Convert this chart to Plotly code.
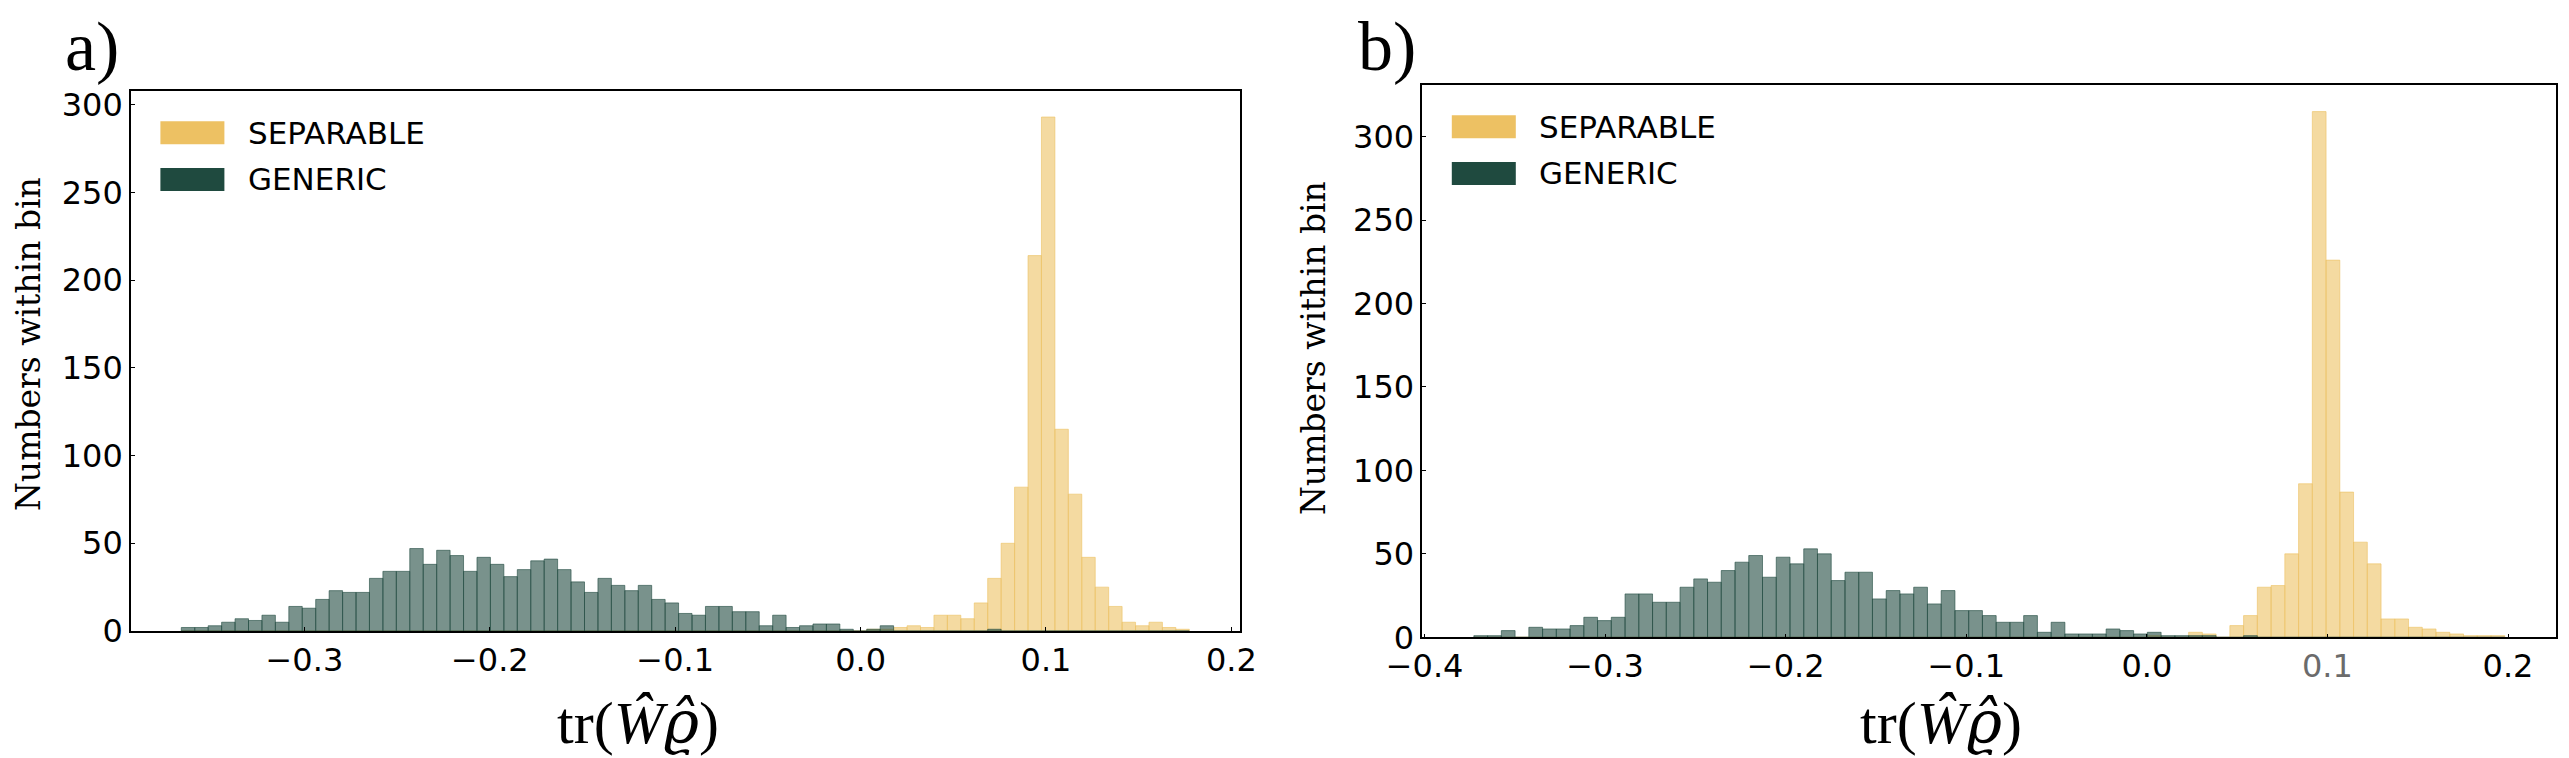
import numpy as np
import plotly.graph_objects as go

W, H = 2569, 758

# histogram bins (75 equal bins shared by both series in each panel)
n_bins = 75
bins_a = (-0.3664, 0.1773)
bins_b = (-0.3727, 0.1982)

# panel a) counts per bin
separable_a = [0] * 51 + [1, 1, 2, 3, 2, 9, 9, 7, 16, 30, 50, 82, 214, 293, 115,
                          78, 42, 25, 14, 5, 3, 5, 2, 1]
generic_a = [2, 2, 3, 5, 7, 6, 9, 5, 14, 13, 18, 23, 22, 22, 30, 34, 34, 47, 38, 46,
             43, 34, 42, 38, 31, 35, 40, 41, 35, 28, 22, 30, 26, 23, 26, 18, 16, 10, 9, 14,
             14, 11, 11, 3, 9, 2, 3, 4, 4, 1, 0, 1, 3, 0, 0, 0, 0, 0, 0, 0,
             1, 0, 0, 0, 0, 0, 0, 0, 0, 0, 0, 0, 0, 0, 0]

# panel b) counts per bin
separable_b = [0] * 49 + [1, 0, 0, 3, 2, 0, 7, 13, 30, 31, 50, 92, 315, 226, 87,
                          57, 44, 11, 11, 6, 5, 3, 2, 1, 1, 1]
generic_b = [1, 1, 4, 0, 6, 5, 5, 7, 12, 10, 12, 26, 26, 21, 21, 30, 35, 33, 40, 45,
             49, 36, 48, 44, 53, 50, 34, 39, 39, 23, 28, 26, 30, 20, 28, 16, 16, 13, 9, 9,
             13, 3, 9, 2, 2, 2, 5, 4, 2, 3, 1, 1, 1, 1, 0, 0, 1, 0, 0, 0,
             0, 0, 0, 0, 0, 0, 0, 0, 0, 0, 0, 0, 0, 0, 0]

ticks_a = [-0.3, -0.2, -0.1, 0.0, 0.1, 0.2]
ticks_b = [-0.4, -0.3, -0.2, -0.1, 0.0, 0.1, 0.2]
yticks = [0, 50, 100, 150, 200, 250, 300]

SEP = (237, 193, 99)
GEN = (31, 74, 63)


def rgba(c, a):
    return f"rgba({c[0]},{c[1]},{c[2]},{a})"


def fx(px):
    return px / W


def fy(py):
    return 1 - py / H


def tick_label(v):
    s = f"{abs(v):.1f}"
    return ("\u2212" + s) if v < 0 else s


fig = go.Figure()

panels = [
    dict(bins=bins_a, sep=separable_a, gen=generic_a, xa="x", ya="y",
         box=(122.9, 1231.7, 83.3, 623.0)),
    dict(bins=bins_b, sep=separable_b, gen=generic_b, xa="x2", ya="y2",
         box=(1414.3, 2548.3, 77.3, 629.3)),
]

for p in panels:
    lo, hi = p["bins"]
    edges = np.linspace(lo, hi, n_bins + 1)
    centers = (edges[:-1] + edges[1:]) / 2
    width = edges[1] - edges[0]
    for name, vals, col in (("SEPARABLE", p["sep"], SEP), ("GENERIC", p["gen"], GEN)):
        fig.add_trace(go.Bar(
            x=centers, y=vals, width=width, name=name,
            xaxis=p["xa"], yaxis=p["ya"], showlegend=False,
            marker=dict(color=rgba(col, 0.6),
                        line=dict(color=rgba(col, 0.6), width=1)),
        ))

tick_font = dict(family="DejaVu Sans", size=32, color="black")
axis_common = dict(showline=True, mirror=True, linecolor="black", linewidth=1.5,
                   ticks="inside", ticklen=4, tickwidth=1, tickcolor="black",
                   showgrid=False, zeroline=False, tickfont=tick_font,
                   automargin=False)

layout_axes = {}
for i, p in enumerate(panels):
    lo, hi = p["bins"]
    span = hi - lo
    x0, x1, y0, y1 = p["box"]
    ymax = 1.05 * max(max(p["sep"]), max(p["gen"]))
    xt = ticks_a if i == 0 else ticks_b
    xtext = [tick_label(v) for v in xt]
    if i == 1:
        xtext = [t if t != "0.1" else "<span style='color:#6b6b6b'>0.1</span>" for t in xtext]
    sfx = "" if i == 0 else "2"
    layout_axes["xaxis" + sfx] = dict(
        axis_common, domain=[fx(x0), fx(x1)], range=[lo - 0.05 * span, hi + 0.05 * span],
        anchor="y" + sfx, tickvals=xt, ticktext=xtext)
    layout_axes["yaxis" + sfx] = dict(
        axis_common, domain=[fy(y1), fy(y0)], range=[0, ymax],
        anchor="x" + sfx, tickvals=yticks)

fig.update_layout(
    width=W, height=H, margin=dict(l=0, r=0, t=0, b=0),
    paper_bgcolor="white", plot_bgcolor="white",
    barmode="overlay", showlegend=False,
    **layout_axes,
)

shapes = []
annotations = []

# custom legends (large matplotlib-style patches)
for p in panels:
    x0, x1, y0, y1 = p["box"]
    for j, (name, col) in enumerate((("SEPARABLE", SEP), ("GENERIC", GEN))):
        top = y0 + 30 + j * 46.6
        shapes.append(dict(type="rect", xref="paper", yref="paper",
                           x0=fx(x0 + 29.5), x1=fx(x0 + 93.5),
                           y0=fy(top + 23), y1=fy(top),
                           fillcolor=rgba(col, 1), line=dict(width=0)))
        annotations.append(dict(text=name, xref="paper", yref="paper",
                                x=fx(x0 + 115), y=fy(top + 11.5),
                                xanchor="left", yanchor="middle", showarrow=False,
                                font=dict(family="DejaVu Sans", size=31, color="black")))

# panel letters
for letter, lx in (("a)", 57), ("b)", 1350)):
    annotations.append(dict(text=letter, xref="paper", yref="paper", x=fx(lx), y=fy(0.5),
                            xanchor="left", yanchor="top", showarrow=False,
                            borderpad=0, borderwidth=0,
                            font=dict(family="Liberation Serif", size=70, color="black")))

# x-axis titles
xtitle = ("tr(<i>\u0174</i><span style='font-family:\"DejaVu Serif\"'>"
          "<i>\u03f1\u0302</i></span>)")
for cx in (630, 1933):
    annotations.append(dict(text=xtitle, xref="paper", yref="paper",
                            x=fx(cx), y=fy(714), xanchor="center", yanchor="middle",
                            showarrow=False,
                            font=dict(family="Liberation Serif", size=60, color="black")))

# y-axis titles
for cx, cy in ((20, 336), (1305, 340)):
    annotations.append(dict(text="Numbers within bin", xref="paper", yref="paper",
                            x=fx(cx), y=fy(cy), xanchor="center", yanchor="middle",
                            textangle=-90, showarrow=False, borderpad=0, borderwidth=0,
                            font=dict(family="DejaVu Serif", size=33, color="black")))

fig.update_layout(shapes=shapes, annotations=annotations)

fig.write_html("out.html")
